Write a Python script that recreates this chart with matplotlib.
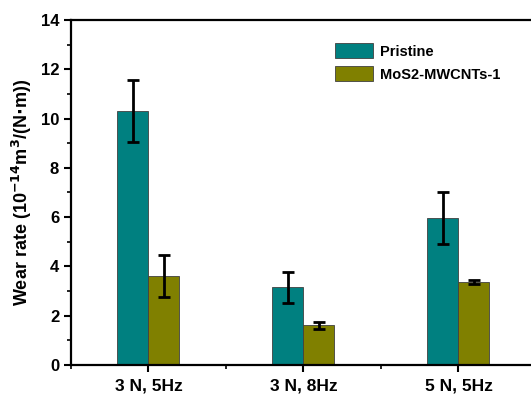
import numpy as np
import matplotlib.pyplot as plt
from matplotlib.ticker import MultipleLocator, FixedLocator

plt.rcParams['font.family'] = ['Liberation Sans', 'DejaVu Sans']
plt.rcParams['font.weight'] = 'bold'

conditions = ['3 N, 5Hz', '3 N, 8Hz', '5 N, 5Hz']
series_names = ['Pristine', 'MoS2-MWCNTs-1']
pristine = [10.3, 3.15, 5.95]
pristine_err = [1.25, 0.63, 1.05]
composite = [3.6, 1.62, 3.37]
composite_err = [0.85, 0.14, 0.07]
colors = ['#008080', '#808000']

fig = plt.figure(figsize=(5.31, 3.96), dpi=100)
ax = fig.add_axes([0.1337, 0.0783, 0.8757, 0.8712])

x = np.arange(len(conditions))
w = 0.2
err_kw = dict(ecolor='black', elinewidth=2, capsize=4, capthick=2)
ax.bar(x - w / 2, pristine, w, yerr=pristine_err, color=colors[0],
       edgecolor='#404040', linewidth=0.6, label=series_names[0], error_kw=err_kw)
ax.bar(x + w / 2, composite, w, yerr=composite_err, color=colors[1],
       edgecolor='#404040', linewidth=0.6, label=series_names[1], error_kw=err_kw)

ax.set_xlim(-0.5, 2.5)
ax.set_ylim(0, 14)
ax.set_xticks(x)
ax.set_xticklabels(conditions, fontsize=12.5, fontweight='bold')
ax.xaxis.set_minor_locator(FixedLocator([-0.5, 0.5, 1.5]))
ax.yaxis.set_major_locator(MultipleLocator(2))
ax.yaxis.set_minor_locator(MultipleLocator(1))
ax.tick_params(axis='y', which='major', labelsize=12, width=1.5, length=5, direction='out')
ax.tick_params(axis='y', which='minor', width=1.2, length=3, direction='out')
ax.tick_params(axis='x', which='major', width=1.5, length=5, direction='out', pad=5)
ax.tick_params(axis='x', which='minor', width=1.2, length=3, direction='out')
for lbl in ax.get_yticklabels():
    lbl.set_fontweight('bold')
for s in ax.spines.values():
    s.set_linewidth(1.6)

ax.set_ylabel(r'Wear rate (10$^{\mathbf{-14}}$m$^{\mathbf{3}}$/(N$\cdot$m))',
              fontsize=13, fontweight='bold', labelpad=5)

ax.legend(loc='upper left', bbox_to_anchor=(0.539, 0.97), frameon=False,
          handlelength=2.6, handleheight=1.2, labelspacing=0.5, handletextpad=0.5,
          prop={'weight': 'bold', 'size': 10.5})

fig.savefig('out.png', dpi=100)
